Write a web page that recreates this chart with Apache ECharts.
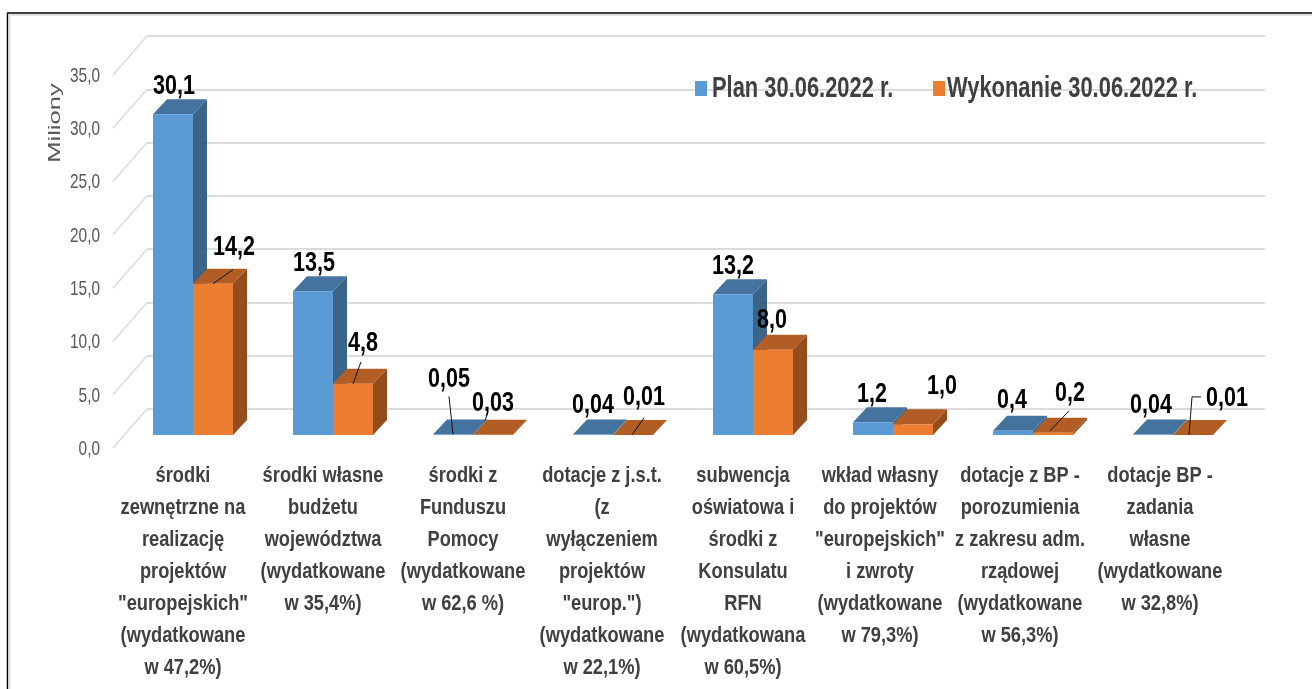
<!DOCTYPE html>
<html>
<head>
<meta charset="utf-8">
<title>Plan i wykonanie</title>
<style>
html,body{margin:0;padding:0;background:#fff;}
#wykres{width:1312px;height:689px;}
</style>
<script src="https://cdn.jsdelivr.net/npm/echarts@6/dist/echarts.min.js"></script>
</head>
<body>
<div id="wykres"></div>
<script>
// dane (mln zl)
var kategorie = [
    'środki\nzewnętrzne na\nrealizację\nprojektów\n"europejskich"\n(wydatkowane\nw 47,2%)',
    'środki własne\nbudżetu\nwojewództwa\n(wydatkowane\nw 35,4%)',
    'środki z\nFunduszu\nPomocy\n(wydatkowane\nw 62,6 %)',
    'dotacje z j.s.t.\n(z\nwyłączeniem\nprojektów\n"europ.")\n(wydatkowane\nw 22,1%)',
    'subwencja\noświatowa i\nśrodki z\nKonsulatu\nRFN\n(wydatkowana\nw 60,5%)',
    'wkład własny\ndo projektów\n"europejskich"\ni zwroty\n(wydatkowane\nw 79,3%)',
    'dotacje z BP -\nporozumienia\nz zakresu adm.\nrządowej\n(wydatkowane\nw 56,3%)',
    'dotacje BP -\nzadania\nwłasne\n(wydatkowane\nw 32,8%)'
];
var plan = [30.1, 13.5, 0.05, 0.04, 13.2, 1.2, 0.4, 0.04];
var wykonanie = [14.2, 4.8, 0.03, 0.01, 8.0, 1.0, 0.2, 0.01];
var podzialka = [0, 5, 10, 15, 20, 25, 30, 35];
var nazwaPlan = 'Plan 30.06.2022 r.';
var nazwaWyk = 'Wykonanie 30.06.2022 r.';

// przesuniecia etykiet wzgledem gory slupka
var przesunieciePlan = [[1,-28],[1,-28],[-4,-55],[0,-29],[0,-28],[-1,-28],[-1,-30],[-2,-29]];
var przesuniecieWyk = [[21,-36],[10,-41],[0,-31],[11,-38],[-1,-29],[29,-38],[17,-40],[34,-37]];
// linie odniesienia
var liniePlan = [null, null, [[0,0],[-4,-38]], null, null, null, null, null];
var linieWyk = [[[0,0],[20,-14]], [[0,0],[8,-22]], [[-8,-14],[-6,-20]], [[-1,0],[11,-17]], null, null, [[-3,-2],[16,-22]], [[-4,0],[-1,-38],[8,-38]]];
// korekta polozenia opisow kategorii
var korektaOpisu = [0, 0, 0, -1, 0, -3, -3, -3];

var glebiaBok = 14, glebiaGora = -15; // glebia slupka
var sciana = [34, -39]; // przesuniecie tylnej sciany
var podloga = [10, -13]; // slupki stoja w srodku podlogi
var szerSlupka = 40;
var czcionka = 'Liberation Sans'; // w oryginale waska, stad scaleX

function etykieta(v){
    return (v < 0.1 ? v.toFixed(2) : v.toFixed(1)).replace('.', ',');
}

function rysujSlupek(kolory, strona, wartosci, przes, linie){
    return function(params, api){
        var i = api.value(0);
        var podst = api.coord([i, 0]);
        var gora = api.coord([i, api.value(1)]);
        var x0 = podst[0] + podloga[0] + (strona < 0 ? -szerSlupka : 0);
        var x1 = x0 + szerSlupka;
        var y0 = podst[1] + podloga[1];
        var y1 = gora[1] + podloga[1];
        var dzieci = [
            {type:'polygon', shape:{points:[[x1,y0],[x1+glebiaBok,y0+glebiaGora],[x1+glebiaBok,y1+glebiaGora],[x1,y1]]}, style:{fill:kolory[1]}},
            {type:'polygon', shape:{points:[[x0,y1],[x1,y1],[x1+glebiaBok,y1+glebiaGora],[x0+glebiaBok,y1+glebiaGora]]}, style:{fill:kolory[2]}},
            {type:'rect', shape:{x:x0, y:y1, width:szerSlupka, height:y0-y1}, style:{fill:kolory[0]}}
        ];
        var sx = (x0 + x1) / 2;
        if (linie[i]) {
            dzieci.push({type:'polyline', z2:50, shape:{points:linie[i].map(function(p){ return [sx+p[0], y1+p[1]]; })}, style:{stroke:'#111', lineWidth:1, fill:null}});
        }
        dzieci.push({
            type:'text', z2:60, x:sx+przes[i][0], y:y1+przes[i][1], scaleX:0.77,
            style:{text:etykieta(wartosci[i]), fontFamily:czcionka, fontWeight:'bold', fontSize:28, fill:'#000', align:'center', verticalAlign:'middle'}
        });
        return {type:'group', children:dzieci};
    };
}

function dane(lista){
    return lista.map(function(v, i){ return [i, v]; });
}

var option = {
    animation: false,
    backgroundColor: '#fff',
    grid: [
        {left:113, top:75, width:1120, height:373},
        {left:147, top:36, width:1118, height:373}
    ],
    xAxis: [
        {type:'category', gridIndex:0, data:kategorie, axisLine:{show:false}, axisTick:{show:false}, axisLabel:{show:false}},
        {type:'value', gridIndex:1, min:0, max:1, show:false}
    ],
    yAxis: [
        {type:'value', gridIndex:0, min:0, max:35, interval:5, axisLine:{show:false}, axisTick:{show:false}, splitLine:{show:false}, axisLabel:{show:false}},
        {
            type:'value', gridIndex:1, min:0, max:35, interval:5,
            axisLine:{show:false}, axisTick:{show:false}, axisLabel:{show:false},
            splitLine:{lineStyle:{color:'#dcdcdc', width:2}}
        }
    ],
    graphic: [
        {type:'line', shape:{x1:7.5, y1:13, x2:7.5, y2:689}, style:{stroke:'#000', lineWidth:1.5}, z:1},
        {type:'line', shape:{x1:7, y1:13, x2:1312, y2:13}, style:{stroke:'#000', lineWidth:1.5}, z:1},
        {type:'line', shape:{x1:9.5, y1:15, x2:9.5, y2:689}, style:{stroke:'#e2e2e2', lineWidth:2}, z:1},
        {type:'line', shape:{x1:9, y1:15, x2:1312, y2:15}, style:{stroke:'#e2e2e2', lineWidth:2}, z:1},
        {type:'text', x:56, y:123, rotation:Math.PI/2, scaleX:1.6,
            style:{text:'Miliony', fontFamily:czcionka, fontSize:16, fill:'#595959', align:'center', verticalAlign:'middle'}},
        // legenda
        {type:'rect', shape:{x:695, y:81, width:12, height:15}, style:{fill:'#5b9bd5'}, z:20},
        {type:'text', x:712, y:89, scaleX:0.755, z:20,
            style:{text:nazwaPlan, fontFamily:czcionka, fontWeight:'bold', fontSize:29, fill:'#404040', align:'left', verticalAlign:'middle'}},
        {type:'rect', shape:{x:933, y:81, width:12, height:15}, style:{fill:'#ed7d31'}, z:20},
        {type:'text', x:947, y:89, scaleX:0.755, z:20,
            style:{text:nazwaWyk, fontFamily:czcionka, fontWeight:'bold', fontSize:29, fill:'#404040', align:'left', verticalAlign:'middle'}}
    ],
    series: [
        {
            name:'sciana', type:'custom', coordinateSystem:'cartesian2d', xAxisIndex:0, yAxisIndex:0, silent:true,
            data: podzialka.map(function(t){ return [0, t]; }),
            encode:{x:0, y:1},
            renderItem: function(params, api){
                var p = api.coord([0, api.value(1)]);
                var x = p[0] - api.size([1, 0])[0] / 2;
                return {type:'group', children:[
                    {type:'line', shape:{x1:x, y1:p[1], x2:x+sciana[0], y2:p[1]+sciana[1]}, style:{stroke:'#dcdcdc', lineWidth:1.5}},
                    {type:'text', x:x-13, y:p[1]+1, scaleX:0.734,
                        style:{text:api.value(1).toFixed(1).replace('.', ','), fontFamily:czcionka, fontSize:21, fill:'#595959', align:'right', verticalAlign:'middle'}}
                ]};
            }
        },
        {
            name:nazwaPlan, type:'custom', coordinateSystem:'cartesian2d', xAxisIndex:0, yAxisIndex:0, silent:true,
            itemStyle:{color:'#5b9bd5'}, data:dane(plan), encode:{x:0, y:1},
            renderItem: rysujSlupek(['#5b9bd5','#3a6488','#44739f'], -1, plan, przesunieciePlan, liniePlan)
        },
        {
            name:nazwaWyk, type:'custom', coordinateSystem:'cartesian2d', xAxisIndex:0, yAxisIndex:0, silent:true,
            itemStyle:{color:'#ed7d31'}, data:dane(wykonanie), encode:{x:0, y:1},
            renderItem: rysujSlupek(['#ed7d31','#934e1e','#b15d24'], 1, wykonanie, przesuniecieWyk, linieWyk)
        },
        {
            name:'kategorie', type:'custom', coordinateSystem:'cartesian2d', xAxisIndex:0, yAxisIndex:0, silent:true,
            data: kategorie.map(function(k, i){ return [i, 0]; }),
            encode:{x:0, y:1},
            renderItem: function(params, api){
                var p = api.coord([api.value(0), 0]);
                return {type:'text', x:p[0]+korektaOpisu[params.dataIndex], y:p[1]+12, scaleX:0.83,
                    style:{text:kategorie[params.dataIndex], fontFamily:czcionka, fontWeight:'bold', fontSize:22, lineHeight:32, fill:'#404040', align:'center', verticalAlign:'top'}};
            }
        }
    ]
};

var myChart = echarts.init(document.getElementById('wykres'));
myChart.setOption(option);
</script>
</body>
</html>
